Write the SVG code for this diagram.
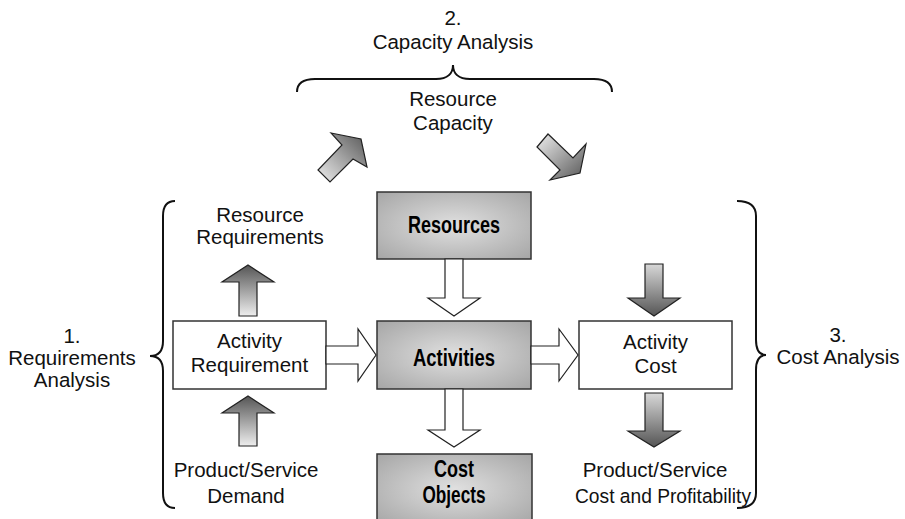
<svg xmlns="http://www.w3.org/2000/svg" width="905" height="519" viewBox="0 0 905 519">
<style>
.t{font-family:"Liberation Sans",Arial,sans-serif;font-size:20.5px;fill:#111;text-anchor:middle}
.b{font-family:"Liberation Sans",Arial,sans-serif;font-size:23px;font-weight:bold;fill:#000;text-anchor:middle}
.box{fill:#fff;stroke:#333;stroke-width:1.5}
.gbox{fill:url(#rg);stroke:#333;stroke-width:1.5}
.hol{fill:#fff;stroke:#222;stroke-width:1.2;stroke-linejoin:miter}
.gu{fill:url(#gUp);stroke:#222;stroke-width:1.2}
.gd{fill:url(#gDown);stroke:#222;stroke-width:1.2}
.brace{fill:none;stroke:#111;stroke-width:2}
</style>
<defs>
<radialGradient id="rg" cx="0.5" cy="0.5" r="0.7">
<stop offset="0" stop-color="#e0e0e0"/>
<stop offset="1" stop-color="#a6a6a6"/>
</radialGradient>
<linearGradient id="gUp" x1="0" y1="0" x2="0" y2="1">
<stop offset="0" stop-color="#555"/>
<stop offset="1" stop-color="#eee"/>
</linearGradient>
<linearGradient id="gDown" x1="0" y1="0" x2="0" y2="1">
<stop offset="0" stop-color="#d8d8d8"/>
<stop offset="1" stop-color="#555"/>
</linearGradient>
<linearGradient id="gUR" x1="1" y1="0" x2="0" y2="1">
<stop offset="0" stop-color="#555"/>
<stop offset="1" stop-color="#eee"/>
</linearGradient>
<linearGradient id="gDR" x1="0" y1="0" x2="1" y2="1">
<stop offset="0" stop-color="#eee"/>
<stop offset="1" stop-color="#555"/>
</linearGradient>
</defs>

<g id="braces">
<path class="brace" d="M297,92 C297,83 303,79 315,79 L436,79 C448,79 453,73 453,65 C453,73 458,79 470,79 L594,79 C606,79 612,83 612,92"/>
<path class="brace" d="M175,201 C167,201 163,206 163,216 L163,341 C163,351 158,356 150,356 C158,356 163,361 163,371 L163,493 C163,503 167,508 175,508"/>
<path class="brace" d="M737,201 C749,201 756,206 756,216 L756,340 C756,350 760,355 766,355 C760,355 756,360 756,370 L756,493 C756,503 749,508 737,508"/>
</g>

<g id="label-capacity">
<text class="t" x="453" y="25">2.</text>
<text class="t" x="453" y="49">Capacity Analysis</text>
</g>
<g id="label-requirements">
<text class="t" x="72" y="343">1.</text>
<text class="t" x="72" y="365">Requirements</text>
<text class="t" x="72" y="387">Analysis</text>
</g>
<g id="label-cost">
<text class="t" x="838" y="342">3.</text>
<text class="t" x="838" y="364">Cost Analysis</text>
</g>
<g id="label-resource-capacity">
<text class="t" x="453" y="106">Resource</text>
<text class="t" x="453" y="130">Capacity</text>
</g>
<g id="label-resource-requirements">
<text class="t" x="260" y="222">Resource</text>
<text class="t" x="260" y="244">Requirements</text>
</g>
<g id="label-demand">
<text class="t" x="246" y="477">Product/Service</text>
<text class="t" x="246" y="503">Demand</text>
</g>
<g id="label-profitability">
<text class="t" x="655" y="477">Product/Service</text>
<text class="t" x="663" y="503" textLength="176" lengthAdjust="spacingAndGlyphs">Cost and Profitability</text>
</g>

<g id="node-resources">
<rect class="gbox" x="377" y="192" width="154" height="67"/>
<text class="b" x="454" y="233" textLength="92" lengthAdjust="spacingAndGlyphs">Resources</text>
</g>
<g id="node-activity-requirement">
<rect class="box" x="173" y="321" width="153" height="68"/>
<text class="t" x="249.5" y="348">Activity</text>
<text class="t" x="249.5" y="372">Requirement</text>
</g>
<g id="node-activities">
<rect class="gbox" x="377" y="321" width="154" height="68"/>
<text class="b" x="454" y="366" textLength="82" lengthAdjust="spacingAndGlyphs">Activities</text>
</g>
<g id="node-activity-cost">
<rect class="box" x="579" y="321" width="153" height="68"/>
<text class="t" x="655.5" y="349">Activity</text>
<text class="t" x="655.5" y="373">Cost</text>
</g>
<g id="node-cost-objects">
<rect class="gbox" x="377" y="454" width="155" height="70"/>
<text class="b" x="454" y="477" textLength="40" lengthAdjust="spacingAndGlyphs">Cost</text>
<text class="b" x="454" y="503" textLength="63" lengthAdjust="spacingAndGlyphs">Objects</text>
</g>

<g id="connectors">
<polygon fill="url(#gUR)" stroke="#222" stroke-width="1.2" points="331,133 361,139 367,167 353,159 330,182 318,170 342,145"/>
<polygon fill="url(#gDR)" stroke="#222" stroke-width="1.2" points="537,147 548,134 573,158 586,144 580,173 550,180 560,170"/>
<polygon class="gu" points="248,265 274,282 257,282 257,316 239,316 239,282 222,282"/>
<polygon class="gu" points="248,396 274,413 257,413 257,446 239,446 239,413 222,413"/>
<polygon class="gd" points="645,264 663,264 663,298 680,298 654,316 628,298 645,298"/>
<polygon class="gd" points="645,393 663,393 663,431 680,431 654,447 628,431 645,431"/>
<polygon class="hol" points="445,259 463,259 463,298 480,298 454,316 428,298 445,298"/>
<polygon class="hol" points="445,389 463,389 463,430 480,430 454,447 428,430 445,430"/>
<polygon class="hol" points="326,346 358,346 358,329 376,355 358,381 358,364 326,364"/>
<polygon class="hol" points="531,346 559,346 559,329 578,355 559,381 559,364 531,364"/>
</g>
</svg>
